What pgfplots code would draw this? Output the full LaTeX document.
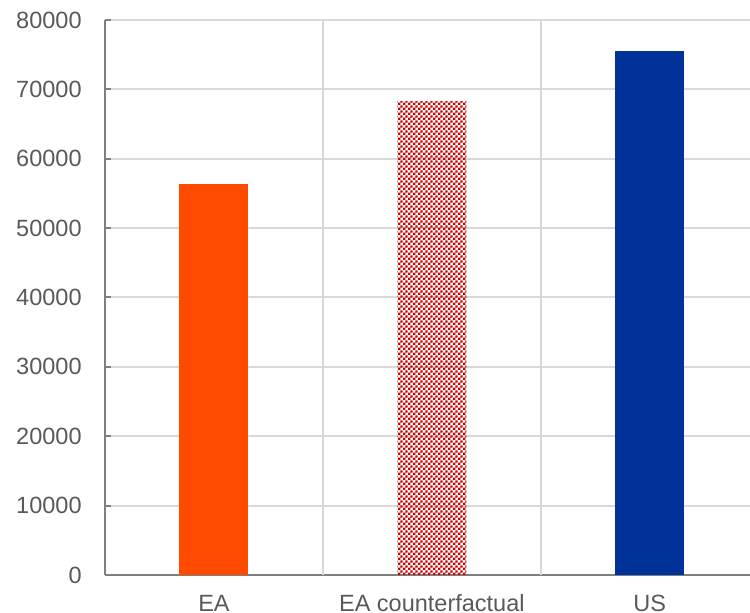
\documentclass[border=0pt]{standalone}
\usepackage{fontspec}
\setmainfont{Liberation Sans}
\usepackage{pgfplots}
\pgfplotsset{compat=1.18}
\usetikzlibrary{patterns}
\definecolor{eaorange}{HTML}{FF4B00}
\definecolor{usblue}{HTML}{003299}
\definecolor{cfred}{HTML}{C80000}
\definecolor{gridgray}{HTML}{D9D9D9}
\definecolor{axisgray}{HTML}{7F7F7F}
\definecolor{labelgray}{HTML}{595959}
\pgfdeclarepatternformonly{checker}{\pgfpointorigin}{\pgfpoint{2.4pt}{2.4pt}}{\pgfpoint{2.4pt}{2.4pt}}{%
  \pgfpathrectangle{\pgfpointorigin}{\pgfpoint{1.2pt}{1.2pt}}%
  \pgfpathrectangle{\pgfpoint{1.2pt}{1.2pt}}{\pgfpoint{1.2pt}{1.2pt}}%
  \pgfusepath{fill}}
\begin{document}
\fontsize{11.75}{14}\selectfont
\begin{tikzpicture}
\begin{axis}[
  scale only axis,
  width=322.5pt, height=277.5pt,
  xmin=-0.5, xmax=2.46,
  ymin=0, ymax=80000,
  ytick={0,10000,...,80000},
  scaled y ticks=false,
  /pgf/number format/assume math mode=true,
  /pgf/number format/fixed,
  /pgf/number format/1000 sep={},
  xtick={0,1,2},
  xticklabels={EA, EA counterfactual, US},
  major x tick style={draw=none},
  extra x ticks={0.5,1.5},
  extra x tick labels={},
  extra x tick style={grid=major, major tick length=3.5pt, tick align=outside, tick style={draw=axisgray, line width=1pt}},
  ymajorgrids,
  grid style={draw=gridgray, line width=1pt},
  axis x line*=bottom,
  axis y line*=left,
  axis line style={draw=axisgray, line width=1pt, -},
  y tick style={draw=axisgray, line width=1pt},
  tick align=inside,
  major tick length=3pt,
  tick label style={font=\fontsize{11.75}{14}\selectfont, text=labelgray},
  yticklabel style={inner sep=0pt, xshift=-11.5pt},
  xticklabel style={inner sep=0pt, anchor=base, yshift=-15.5pt},
  ybar, bar width=0.317, bar shift=0pt,
  clip=false,
]
\addplot[fill=eaorange, draw=none] coordinates {(0,56400)};
\addplot[pattern=checker, pattern color=cfred, draw=none] coordinates {(1,68300)};
\addplot[fill=usblue, draw=none] coordinates {(2,75500)};
\coordinate (sw) at (rel axis cs:0,0);
\coordinate (ne) at (rel axis cs:1,1);
\end{axis}
\path (sw) ++(-52.5pt,-19pt) coordinate (bl);
\path (ne) ++(0pt,10pt) coordinate (tr);
\pgfresetboundingbox
\path (bl) rectangle (tr);
\end{tikzpicture}
\end{document}
